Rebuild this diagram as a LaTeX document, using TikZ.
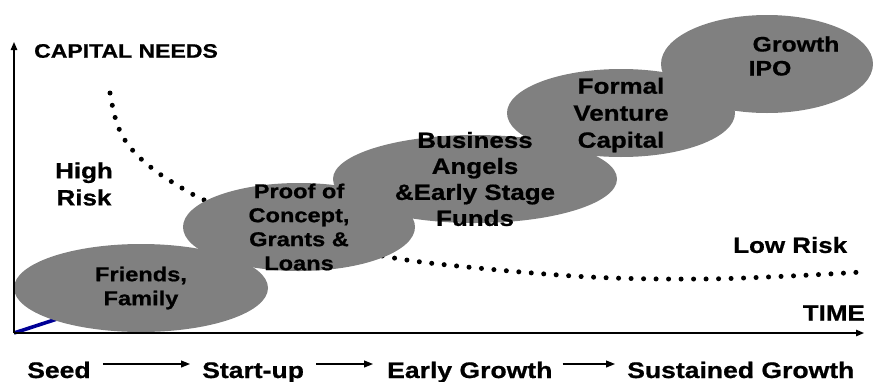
\documentclass[tikz,border=0pt]{standalone}
\usepackage{fontspec}
\setmainfont{Liberation Sans}[FakeStretch=1.18, BoldFeatures={FakeBold=0.8}]
\usetikzlibrary{shapes.geometric,arrows.meta}
\definecolor{stageGray}{RGB}{128,128,128}
\definecolor{seedBlue}{RGB}{0,0,150}

\begin{document}
\begin{tikzpicture}[x=1pt,y=-1pt,
  stage/.style={ellipse, fill=stageGray, draw=none, inner sep=0pt},
  lbl/.style={inner sep=0pt, text=black, align=center,
    font=\bfseries\fontsize{22}{26}\selectfont},
  small/.style={font=\bfseries\fontsize{20}{24}\selectfont},
  axis/.style={line width=1.3pt, -{Triangle[length=8pt,width=6.5pt]}},
  flow/.style={line width=1.1pt, -{Triangle[length=9pt,width=7pt]}},
  risk/.style={line width=5pt, line cap=round, dash pattern=on 0pt off 12.5pt},
]
\useasboundingbox (0,0) rectangle (873,381);

% axes
\coordinate (origin) at (14,333);
\coordinate (ytop) at (14,42);
\coordinate (xend) at (864,333);
\coordinate (seedEnd) at (100,305);

% risk curve (drawn first, the stages cover part of it)
\draw[risk] plot[smooth, tension=0.6] coordinates {
  (110,93) (115,117) (123,137) (137,155) (157,172) (177,185) (200,198)
  (250,220) (310,240) (388,257) (467,267) (590,277) (700,279) (790,276) (862,272)};

% seed trend line
\draw[seedBlue, line width=3.6pt] (origin) -- (seedEnd);

% funding stages
\node[stage, minimum width=254pt, minimum height=88pt] (friendsE) at (141,288) {};
\node[stage, minimum width=232pt, minimum height=88pt] (proofE)   at (299,227) {};
\node[stage, minimum width=284pt, minimum height=88pt] (angelsE)  at (475,179) {};
\node[stage, minimum width=228pt, minimum height=88pt] (ventureE) at (621,113) {};
\node[stage, minimum width=212pt, minimum height=98pt] (ipoE)     at (767,64)  {};

\draw[axis] (origin) -- (ytop);
\draw[axis] (origin) -- (xend);

% stage labels
\node[lbl, small] (friendsT) at (friendsE) {Friends,\\Family};
\node[lbl, small] (proofT) at (proofE) {Proof of\\Concept,\\Grants \&\\Loans};
\node[lbl] (angelsT) at (angelsE) {Business\\Angels\\\&Early Stage\\Funds};
\node[lbl, font=\bfseries\fontsize{22}{27}\selectfont] (ventureT) at (621,115) {Formal\\Venture\\Capital};
\node[lbl, align=left, font=\bfseries\fontsize{21}{24}\selectfont] (ipoT) at (794,56) {\hspace{4pt}Growth\\IPO};

% axis and risk labels
\node[lbl, anchor=west, font=\bfseries\fontsize{19.5}{22}\selectfont] (capital) at (34,51) {CAPITAL NEEDS};
\node[lbl, anchor=east] (time) at (865,313) {TIME};
\node[lbl, font=\bfseries\fontsize{22}{27}\selectfont] (high) at (84,184) {High\\Risk};
\node[lbl, anchor=west] (low) at (733,245) {Low Risk};

% growth phases
\node[lbl, anchor=base west, font=\bfseries\fontsize{22.5}{26}\selectfont] (seed) at (27,378) {Seed};
\node[lbl, anchor=base west, font=\bfseries\fontsize{22.5}{26}\selectfont] (startup) at (202,378) {Start-up};
\node[lbl, anchor=base west, font=\bfseries\fontsize{22.5}{26}\selectfont] (early) at (387,378) {Early Growth};
\node[lbl, anchor=base west, font=\bfseries\fontsize{22.5}{26}\selectfont] (sustained) at (627,378) {Sustained Growth};

\draw[flow] ([xshift=12pt,yshift=14pt]seed.base east) -- ([xshift=-12pt,yshift=14pt]startup.base west);
\draw[flow] ([xshift=12pt,yshift=14pt]startup.base east) -- ([xshift=-14pt,yshift=14pt]early.base west);
\draw[flow] ([xshift=10pt,yshift=14pt]early.base east) -- ([xshift=-12pt,yshift=14pt]sustained.base west);
\end{tikzpicture}
\end{document}
